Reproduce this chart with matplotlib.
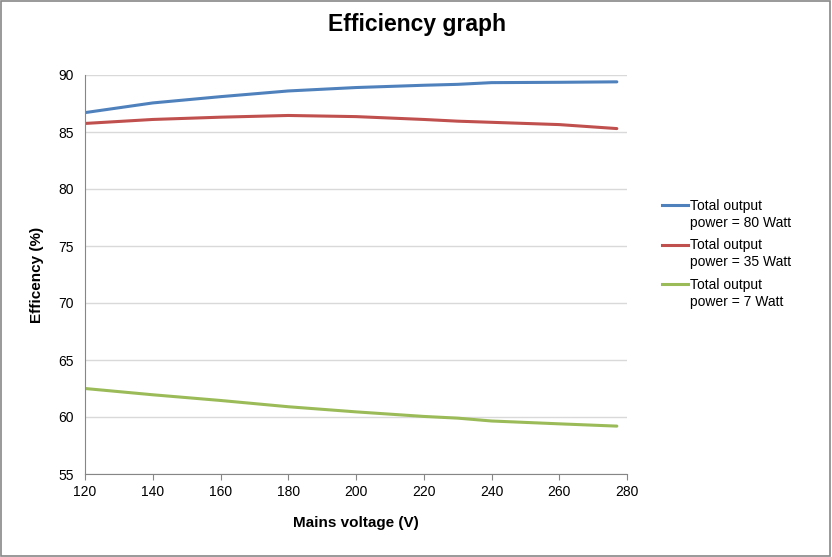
import matplotlib
matplotlib.use("Agg")
import matplotlib.pyplot as plt
from matplotlib.patches import Rectangle
from matplotlib.lines import Line2D

plt.rcParams['font.family'] = ['Liberation Sans', 'DejaVu Sans']

voltage = [120, 140, 160, 180, 200, 220, 230, 240, 260, 277]
eff_80w = [86.7, 87.55, 88.1, 88.6, 88.9, 89.1, 89.18, 89.33, 89.36, 89.4]
eff_35w = [85.75, 86.1, 86.3, 86.45, 86.35, 86.1, 85.95, 85.85, 85.65, 85.3]
eff_7w = [62.5, 61.95, 61.45, 60.9, 60.45, 60.05, 59.9, 59.65, 59.4, 59.2]
labels = ["Total output\npower = 80 Watt", "Total output\npower = 35 Watt", "Total output\npower = 7 Watt"]
colors = ["#4F81BD", "#C0504D", "#9BBB59"]

W, H = 832, 557
fig = plt.figure(figsize=(W/100, H/100), dpi=100)
fig.patches.append(Rectangle((0.001, 0.001), 0.997, 0.997, transform=fig.transFigure,
                             fill=False, edgecolor="#888888", linewidth=1.2))
ax = fig.add_axes([85/W, 1-474/H, 542/W, 399/H])

for y, lab, c in zip([eff_80w, eff_35w, eff_7w], labels, colors):
    ax.plot(voltage, y, color=c, linewidth=2.2, label=lab, solid_capstyle='round')

ax.set_xlim(120, 280)
ax.set_ylim(55, 90)
ax.set_xticks(range(120, 281, 20))
ax.set_yticks(range(55, 91, 5))
ax.yaxis.grid(True, color="#D9D9D9", linewidth=1)
ax.set_axisbelow(True)
for s in ["top", "right"]:
    ax.spines[s].set_visible(False)
for s in ["left", "bottom"]:
    ax.spines[s].set_color("#868686")
ax.tick_params(axis='y', length=0, labelsize=10, pad=8)
ax.tick_params(axis='x', length=4, color="#868686", labelsize=10, pad=4)

ax.set_xlabel("Mains voltage (V)", fontsize=11, fontweight='bold', labelpad=12)
ax.set_ylabel("Efficency (%)", fontsize=11, fontweight='bold', labelpad=10)
fig.text(417/W, 1-25/H, "Efficiency graph", ha='center', va='center', fontsize=16.5, fontweight='bold')

# legend (handle aligned with the first text line, as in the reference)
for i, (lab, c) in enumerate(zip(labels, colors)):
    yc = 205 + 39.5 * i
    fig.lines.append(Line2D([662/W, 688/W], [1-yc/H, 1-yc/H], transform=fig.transFigure,
                            color=c, linewidth=2.2))
    fig.text(690/W, 1-(yc-6)/H, lab, ha='left', va='top', fontsize=10, linespacing=1.25)

fig.savefig("out.png", dpi=100)
